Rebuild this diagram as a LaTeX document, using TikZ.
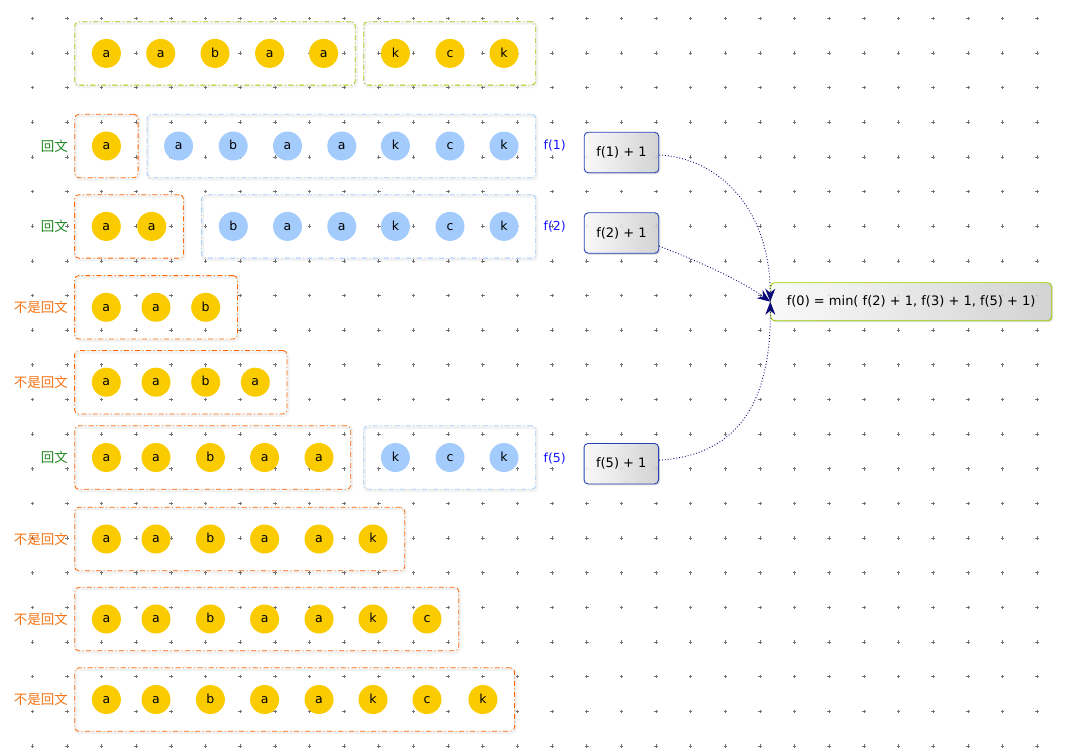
\documentclass[tikz,border=0pt]{standalone}
\usepackage{fontspec}
\setmainfont{DejaVu Sans}
\newfontfamily\cjk{Noto Sans CJK SC}
\usetikzlibrary{fit,shadows,arrows.meta,calc}
\definecolor{cyel}{RGB}{250,204,0}
\definecolor{cblu}{RGB}{163,204,252}
\definecolor{corange}{RGB}{255,102,0}
\definecolor{cgreen}{RGB}{153,204,0}
\definecolor{cbbox}{RGB}{160,204,255}
\definecolor{lgreen}{RGB}{30,135,30}
\definecolor{lorange}{RGB}{245,115,20}
\definecolor{fblue}{RGB}{20,20,255}
\definecolor{fbord}{RGB}{35,65,180}
\definecolor{cnavy}{RGB}{10,10,120}
\definecolor{gridc}{RGB}{115,115,115}
\tikzset{
  chr/.style={circle, minimum size=29pt, inner sep=0pt, text height=7.5pt, text depth=0pt, font=\fontsize{12.5}{13}\selectfont},
  yc/.style={chr, fill=cyel},
  bc/.style={chr, fill=cblu},
  grp/.style={draw, rounded corners=4pt, inner sep=17pt, line width=0.8pt,
    dash pattern=on 5pt off 2.5pt on 1pt off 2.5pt,
    preaction={draw=black, draw opacity=0.05, line width=3pt, solid, transform canvas={xshift=1pt,yshift=-1.5pt}}},
  ogrp/.style={grp, draw=corange},
  ggrp/.style={grp, draw=cgreen},
  bgrp/.style={grp, draw=cbbox},
  lblyes/.style={anchor=east, text=lgreen, font=\cjk\fontsize{13.5}{14}\selectfont, inner sep=0pt},
  lblno/.style={anchor=east, text=lorange, font=\cjk\fontsize{13.5}{14}\selectfont, inner sep=0pt},
  flab/.style={anchor=west, text=fblue, font=\fontsize{12.5}{13}\selectfont, inner sep=0pt},
  fbase/.style={rounded corners=4pt, line width=0.9pt, left color=white, right color=black!18,
    fill opacity=0.85, text opacity=1, font=\fontsize{13}{14}\selectfont,
    drop shadow={shadow xshift=1.5pt, shadow yshift=-1.5pt, opacity=0.25}},
  fbox/.style={fbase, draw=fbord, minimum width=74.5pt, minimum height=40.5pt},
  f0box/.style={fbase, draw=cgreen, minimum width=281pt, minimum height=38pt},
  conn/.style={cnavy, dotted, line width=0.9pt, -{Stealth[length=13pt,width=10pt,inset=4pt]}},
}
\begin{document}
\begin{tikzpicture}[x=1pt,y=-1pt]
\useasboundingbox (0,0) rectangle (1068,750);
% grid
\foreach \i in {0,...,29} \foreach \j in {0,...,21} {
  \draw[gridc, line width=0.65pt] ({32.3+34.65*\i-1.8},{18.3+34.65*\j}) -- ++(3.6,0)
        ({32.3+34.65*\i},{18.3+34.65*\j-1.8}) -- ++(0,3.6);
}
% row 0
\foreach[count=\i] \x/\t in {106.4/a,160.7/a,215/b,269.6/a,323.6/a,395.4/k,450/c,504/k}
  \node[yc] (r0c\i) at (\x,53.4) {\t};
\node[ggrp, fit=(r0c1)(r0c5)] (g0a) {};
\node[ggrp, fit=(r0c6)(r0c8)] (g0b) {};
% row 1
\node[yc] (r1c1) at (106.4,146) {a};
\foreach[count=\i] \x/\t in {178.6/a,233.2/b,287.5/a,341.8/a,395.4/k,450/c,504/k}
  \node[bc] (r1d\i) at (\x,146) {\t};
\node[ogrp, fit=(r1c1)] (g1a) {};
\node[bgrp, fit=(r1d1)(r1d7)] (g1b) {};
\node[lblyes] (l1) at (68,146) {回文};
\node[flab] (fl1) at (543.4,146) {f(1)};
% row 2
\foreach[count=\i] \x/\t in {106.3/a,151.7/a}
  \node[yc] (r2c\i) at (\x,226.4) {\t};
\foreach[count=\i] \x/\t in {233.3/b,287.5/a,341.8/a,395.4/k,450/c,504/k}
  \node[bc] (r2d\i) at (\x,226.4) {\t};
\node[ogrp, fit=(r2c1)(r2c2)] (g2a) {};
\node[bgrp, fit=(r2d1)(r2d6)] (g2b) {};
\node[lblyes] (l2) at (68,226.4) {回文};
\node[flab] (fl2) at (543.4,227) {f(2)};
% row 3
\foreach[count=\i] \x/\t in {106.3/a,156/a,205.7/b}
  \node[yc] (r3c\i) at (\x,307.3) {\t};
\node[ogrp, fit=(r3c1)(r3c3)] (g3a) {};
\node[lblno] (l3) at (68,307.3) {不是回文};
% row 4
\foreach[count=\i] \x/\t in {106.3/a,156/a,205.7/b,255.3/a}
  \node[yc] (r4c\i) at (\x,382.2) {\t};
\node[ogrp, fit=(r4c1)(r4c4)] (g4a) {};
\node[lblno] (l4) at (68,382.2) {不是回文};
% row 5
\foreach[count=\i] \x/\t in {106.4/a,156/a,210.4/b,264.6/a,319/a}
  \node[yc] (r5c\i) at (\x,457.5) {\t};
\foreach[count=\i] \x/\t in {395.4/k,450/c,504/k}
  \node[bc] (r5d\i) at (\x,457.5) {\t};
\node[ogrp, fit=(r5c1)(r5c5)] (g5a) {};
\node[bgrp, fit=(r5d1)(r5d3)] (g5b) {};
\node[lblyes] (l5) at (68,457.5) {回文};
\node[flab] (fl5) at (543.4,458.3) {f(5)};
% row 6
\foreach[count=\i] \x/\t in {106.4/a,156/a,210.4/b,264.6/a,319/a,373/k}
  \node[yc] (r6c\i) at (\x,539) {\t};
\node[ogrp, fit=(r6c1)(r6c6)] (g6a) {};
\node[lblno] (l6) at (68,539) {不是回文};
% row 7
\foreach[count=\i] \x/\t in {106.4/a,156/a,210.4/b,264.6/a,319/a,373/k,427/c}
  \node[yc] (r7c\i) at (\x,619) {\t};
\node[ogrp, fit=(r7c1)(r7c7)] (g7a) {};
\node[lblno] (l7) at (68,619) {不是回文};
% row 8
\foreach[count=\i] \x/\t in {106.4/a,156/a,210.4/b,264.6/a,319/a,373/k,427/c,482.9/k}
  \node[yc] (r8c\i) at (\x,699.5) {\t};
\node[ogrp, fit=(r8c1)(r8c8)] (g8a) {};
\node[lblno] (l8) at (68,699.5) {不是回文};
% f boxes
\node[fbox] (f1p) at (621.5,152.5) {f(1) + 1};
\node[fbox] (f2p) at (621.5,233) {f(2) + 1};
\node[fbox] (f5p) at (621.3,463.7) {f(5) + 1};
\node[f0box] (f0) at (911.2,301.7) {f(0) = min( f(2) + 1, f(3) + 1, f(5) + 1)};
% connectors
\draw[conn] ([yshift=-2.5pt]f1p.east) .. controls (720,158) and (770,210) .. (f0.west);
\draw[conn] ([yshift=-13pt]f2p.east) .. controls (700,262) and (740,280) .. (f0.west);
\draw[conn] ([yshift=3.5pt]f5p.east) .. controls (740,455) and (771,400) .. (f0.west);
\end{tikzpicture}
\end{document}
